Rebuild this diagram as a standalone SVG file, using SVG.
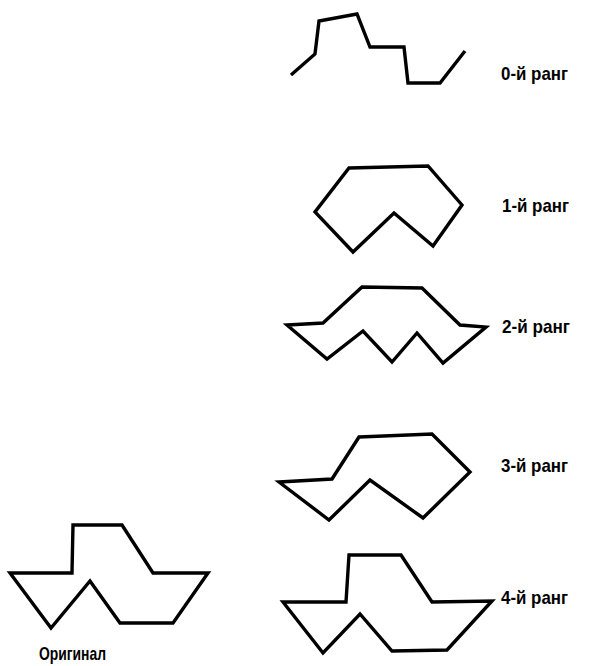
<svg xmlns="http://www.w3.org/2000/svg" width="602" height="666" viewBox="0 0 602 666">
<style>
.s{fill:none;stroke:#000;stroke-width:3.4;stroke-linejoin:miter;stroke-linecap:butt}
.t{font-family:"Liberation Sans",Arial,sans-serif;font-size:19px;font-weight:bold;fill:#000}
</style>
<rect width="602" height="666" fill="#fff"/>
<g id="rank0">
<polyline class="s" points="291,75 315,54 319,21 357,14 370,47 404,47 408,83 440,83 465,51"/>
<text class="t" x="501" y="80" textLength="67" lengthAdjust="spacingAndGlyphs">0-й ранг</text>
</g>
<g id="rank1">
<polygon class="s" points="349,168 428,166 462,205 433,246 394,213 353,252 315,212"/>
<text class="t" x="502" y="212" textLength="67" lengthAdjust="spacingAndGlyphs">1-й ранг</text>
</g>
<g id="rank2">
<polygon class="s" points="362,287 422,288 460,325 486,327 443,363 417,333 392,362 363,331 327,359 287,325 323,323"/>
<text class="t" x="502" y="333" textLength="68" lengthAdjust="spacingAndGlyphs">2-й ранг</text>
</g>
<g id="rank3">
<polygon class="s" points="359,437 432,434 470,472 423,518 370,480 329,520 279,482 332,479"/>
<text class="t" x="501" y="472" textLength="67" lengthAdjust="spacingAndGlyphs">3-й ранг</text>
</g>
<g id="rank4">
<polygon class="s" points="349,555 401,555 432,602 492,601 447,650 392,651 360,614 323,653 283,602 346,602"/>
<text class="t" x="501" y="604" textLength="67" lengthAdjust="spacingAndGlyphs">4-й ранг</text>
</g>
<g id="original">
<polygon class="s" points="73,525 122,525 153,573 208,573 173,623 120,623 90,581 51,628 10,573 72,573"/>
<text class="t" x="39" y="660" textLength="67" lengthAdjust="spacingAndGlyphs">Оригинал</text>
</g>
<g id="connectors"/>
</svg>
